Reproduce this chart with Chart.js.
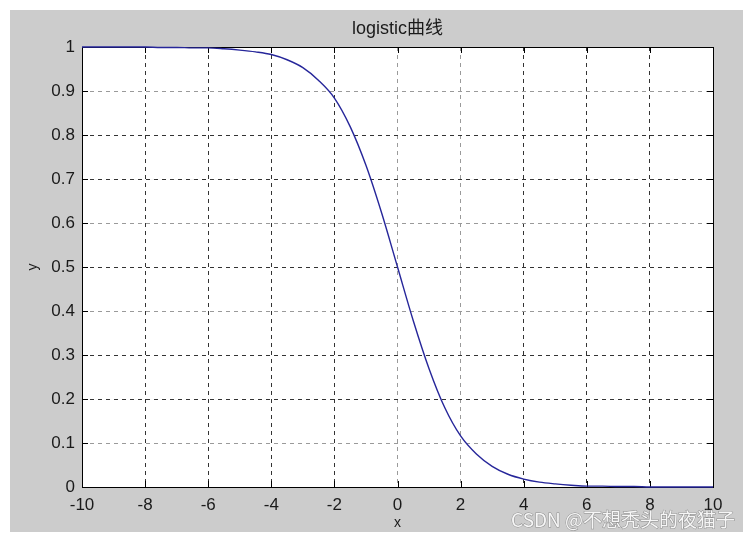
<!DOCTYPE html>
<html>
<head>
<meta charset="utf-8">
<script src="https://cdn.jsdelivr.net/npm/chart.js@4/dist/chart.umd.min.js"></script>
<style>
  html, body { margin: 0; padding: 0; background: #fff; }
  canvas { display: block; }
</style>
</head>
<body>
<canvas id="myChart" width="750" height="540"></canvas>
<script>
// values
var xValues = [-10, -9.5, -9, -8.5, -8, -7.5, -7, -6.5, -6, -5.5, -5, -4.5, -4, -3.5, -3, -2.5, -2, -1.5, -1, -0.5,
               0, 0.5, 1, 1.5, 2, 2.5, 3, 3.5, 4, 4.5, 5, 5.5, 6, 6.5, 7, 7.5, 8, 8.5, 9, 9.5, 10];
var yValues = [1.000, 1.000, 1.000, 1.000, 1.000, 0.999, 0.999, 0.998, 0.998, 0.996, 0.993, 0.989, 0.983, 0.971, 0.953, 0.924, 0.884, 0.819, 0.731, 0.622,
               0.500, 0.378, 0.269, 0.180, 0.116, 0.075, 0.047, 0.029, 0.018, 0.011, 0.007, 0.004, 0.002, 0.002, 0.001, 0.001, 0.000, 0.000, 0.000, 0.000, 0.000];

var xTicks = [-10, -8, -6, -4, -2, 0, 2, 4, 6, 8, 10];
var xTickLabels = ["-10", "-8", "-6", "-4", "-2", "0", "2", "4", "6", "8", "10"];
var yTicks = [0, 0.1, 0.2, 0.3, 0.4, 0.5, 0.6, 0.7, 0.8, 0.9, 1];
var yTickLabels = ["0", "0.1", "0.2", "0.3", "0.4", "0.5", "0.6", "0.7", "0.8", "0.9", "1"];

// grid lines that look paler in the picture
var paleX = [0, 2];
var paleY = [0.1, 0.4, 0.6, 0.9];

var font = '"Liberation Sans", Arial, "Noto Sans CJK SC", sans-serif';

var points = [];
for (var i = 0; i < xValues.length; i++) {
    points.push({ x: xValues[i], y: yValues[i] });
}

// gray figure, white axes, box, inner ticks, watermark
var figure = {
    id: 'figure',
    beforeDraw: function (chart) {
        var c = chart.ctx, a = chart.chartArea;
        c.save();
        c.fillStyle = '#ffffff';
        c.fillRect(0, 0, chart.width, chart.height);
        c.fillStyle = '#cccccc';
        c.fillRect(10, 10, 733, 522);
        c.fillStyle = '#ffffff';
        c.fillRect(a.left, a.top, a.right - a.left, a.bottom - a.top);
        c.restore();
    },
    beforeDatasetsDraw: function (chart) {
        var c = chart.ctx, a = chart.chartArea;
        var xs = chart.scales.x, ys = chart.scales.y;
        c.save();
        c.strokeStyle = '#000000';
        c.lineWidth = 1;
        c.beginPath();
        xs.ticks.forEach(function (t) {
            var px = Math.round(xs.getPixelForValue(t.value)) + 0.5;
            c.moveTo(px, a.bottom); c.lineTo(px, a.bottom - 6);
            c.moveTo(px, a.top); c.lineTo(px, a.top + 6);
        });
        ys.ticks.forEach(function (t) {
            var py = Math.round(ys.getPixelForValue(t.value)) + 0.5;
            c.moveTo(a.left, py); c.lineTo(a.left + 6, py);
            c.moveTo(a.right, py); c.lineTo(a.right - 6, py);
        });
        c.stroke();
        c.strokeRect(Math.round(a.left) + 0.5, Math.round(a.top) + 0.5,
                     Math.round(a.right - a.left), Math.round(a.bottom - a.top));
        c.restore();
    },
    afterDraw: function (chart) {
        var c = chart.ctx;
        c.save();
        c.font = '19px "Noto Sans CJK SC", sans-serif';
        c.textAlign = 'right';
        c.textBaseline = 'middle';
        c.lineWidth = 1;
        c.strokeStyle = '#8c8c8c';
        c.fillStyle = '#f6f6f6';
        c.strokeText('CSDN @不想秃头的夜猫子', 735, 520);
        c.fillText('CSDN @不想秃头的夜猫子', 735, 520);
        c.restore();
    }
};

var ctx = document.getElementById('myChart').getContext('2d');
var chart = new Chart(ctx, {
    type: 'line',
    data: {
        datasets: [{
            data: points,
            borderColor: '#26269a',
            borderWidth: 1.4,
            pointRadius: 0,
            fill: false,
            cubicInterpolationMode: 'monotone',
            clip: 3
        }]
    },
    options: {
        responsive: false,
        animation: false,
        layout: { padding: { left: 10, right: 37, top: 10, bottom: 8 } },
        plugins: {
            legend: { display: false },
            tooltip: { enabled: false },
            title: {
                display: true,
                text: 'logistic曲线',
                fullSize: false,
                color: '#1a1a1a',
                font: { family: font, size: 18, weight: 'normal' },
                padding: { top: 8, bottom: 7.4 }
            }
        },
        scales: {
            x: {
                type: 'linear',
                min: -10,
                max: 10,
                afterBuildTicks: function (s) { s.ticks = xTicks.map(function (v) { return { value: v }; }); },
                afterFit: function (s) { s.height = 45; },
                ticks: {
                    autoSkip: false,
                    maxRotation: 0,
                    padding: 8,
                    color: '#1a1a1a',
                    font: { family: font, size: 17 },
                    callback: function (v, i) { return xTickLabels[i]; }
                },
                grid: {
                    drawTicks: false,
                    lineWidth: 1,
                    color: function (c) { return paleX.indexOf(c.tick && c.tick.value) >= 0 ? '#9a9a9a' : '#333333'; }
                },
                border: { display: false, dash: [4, 4] },
                title: {
                    display: true,
                    text: 'x',
                    color: '#1a1a1a',
                    font: { family: font, size: 14 },
                    padding: { top: 0, bottom: 0 }
                }
            },
            y: {
                min: 0,
                max: 1,
                afterBuildTicks: function (s) { s.ticks = yTicks.map(function (v) { return { value: v }; }); },
                afterFit: function (s) { s.width = 72; },
                ticks: {
                    autoSkip: false,
                    padding: 7,
                    color: '#1a1a1a',
                    font: { family: font, size: 17 },
                    callback: function (v, i) { return yTickLabels[i]; }
                },
                grid: {
                    drawTicks: false,
                    lineWidth: 1,
                    color: function (c) { return paleY.indexOf(c.tick && c.tick.value) >= 0 ? '#9a9a9a' : '#333333'; }
                },
                border: { display: false, dash: [4, 4] },
                title: {
                    display: true,
                    text: 'y',
                    color: '#1a1a1a',
                    font: { family: font, size: 14 },
                    padding: { top: 14.6, bottom: 0 }
                }
            }
        }
    },
    plugins: [figure]
});
</script>
</body>
</html>
